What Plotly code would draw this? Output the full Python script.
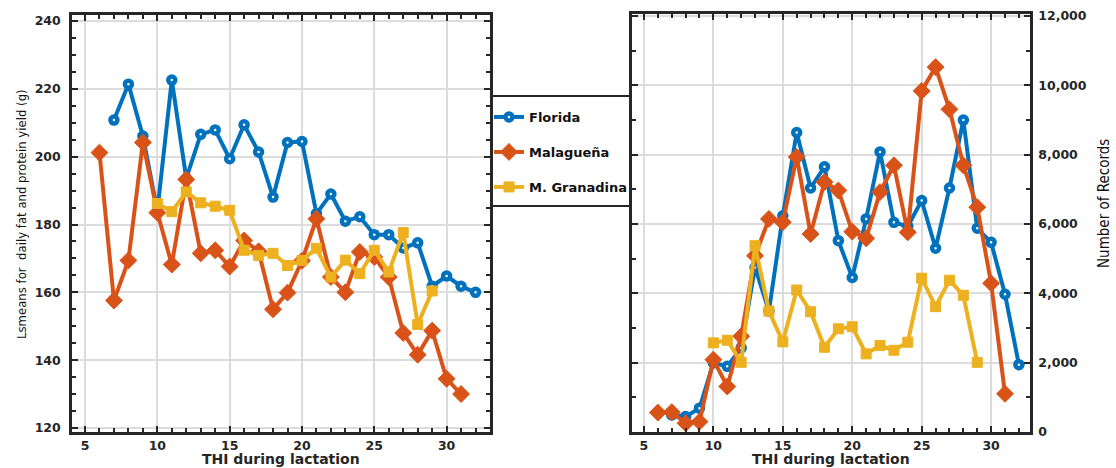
import plotly.graph_objects as go

# ---------------- data ----------------
thi_florida = list(range(7, 33))
thi_malaguena = list(range(6, 32))
thi_granadina = list(range(10, 30))

yield_florida = [210.8, 221.4, 206.1, 184.0, 222.6, 193.6, 206.6, 207.9, 199.4, 209.4,
                 201.4, 188.1, 204.2, 204.5, 183.2, 189.0, 181.0, 182.3, 177.0, 177.0,
                 173.1, 174.6, 161.8, 164.8, 161.8, 160.0]
yield_malaguena = [201.2, 157.6, 169.4, 204.2, 183.5, 168.2, 193.3, 171.5, 172.4, 167.6,
                   175.3, 172.1, 155.0, 159.9, 169.3, 181.7, 164.5, 160.0, 171.9, 170.4,
                   164.5, 148.0, 141.6, 148.7, 134.5, 130.0]
yield_granadina = [186.2, 183.8, 189.6, 186.4, 185.4, 184.2, 172.4, 170.9, 171.5, 167.9,
                   169.4, 173.0, 164.5, 169.5, 165.5, 172.4, 166.0, 177.6, 150.5, 160.4]

records_florida = [493, 444, 687, 1992, 1894, 2427, 4747, 3489, 6240, 8640,
                   7040, 7650, 5520, 4457, 6148, 8082, 6050, 5935, 6678, 5300,
                   7040, 9000, 5877, 5472, 3973, 1943]
records_malaguena = [560, 571, 252, 299, 2088, 1314, 2764, 5084, 6148, 6050,
                     7937, 5713, 7211, 6969, 5780, 5588, 6922, 7695, 5762, 9840,
                     10527, 9309, 7695, 6487, 4292, 1102]
records_granadina = [2572, 2648, 2010, 5374, 3489, 2601, 4097, 3470, 2445, 2978,
                     3036, 2253, 2494, 2358, 2590, 4437, 3616, 4379, 3944, 2010]

breed_names = ["Florida", "Malagueña", "M. Granadina"]
colors = ["#0072BD", "#D95319", "#EDB120"]

W, H = 1116, 468

def px_x(p):
    return p / W

def px_y(p):
    return 1 - p / H

def marker_for(i):
    if i == 0:
        return dict(symbol="circle", size=7, color="white", line=dict(color=colors[0], width=4.5))
    if i == 1:
        return dict(symbol="diamond", size=13, color=colors[1], line=dict(color=colors[1], width=1))
    return dict(symbol="square", size=10, color=colors[2], line=dict(color=colors[2], width=1))

fig = go.Figure()

left_sets = [(thi_florida, yield_florida), (thi_malaguena, yield_malaguena), (thi_granadina, yield_granadina)]
right_sets = [(thi_florida, records_florida), (thi_malaguena, records_malaguena), (thi_granadina, records_granadina)]
legend_ids = ["legend", "legend2", "legend3"]

for i, (xs, ys) in enumerate(left_sets):
    fig.add_trace(go.Scatter(x=xs, y=ys, mode="lines+markers", name=breed_names[i],
                             line=dict(color=colors[i], width=4), marker=marker_for(i),
                             xaxis="x", yaxis="y", legend=legend_ids[i], showlegend=True))
for i, (xs, ys) in enumerate(right_sets):
    fig.add_trace(go.Scatter(x=xs, y=ys, mode="lines+markers", name=breed_names[i],
                             line=dict(color=colors[i], width=4), marker=marker_for(i),
                             xaxis="x2", yaxis="y2", showlegend=False))

tick_font = dict(family="DejaVu Sans", size=12.5, color="#262626", weight="bold")
frame = dict(showline=True, linewidth=2.5, linecolor="#262626", mirror="allticks",
             ticks="inside", ticklen=6, tickwidth=2, tickcolor="#262626",
             showgrid=True, gridcolor="#dcdcdc", gridwidth=2, zeroline=False,
             tickfont=tick_font, automargin=False)
minor_common = dict(ticks="inside", ticklen=4, tickwidth=2, tickcolor="#262626", showgrid=False)

fig.update_layout(
    width=W, height=H, margin=dict(l=0, r=0, t=0, b=0),
    paper_bgcolor="white", plot_bgcolor="white",
    xaxis=dict(domain=[px_x(72), px_x(490)], range=[4.1, 33.0], tick0=5, dtick=5,
               anchor="y", ticklabelstandoff=0, minor=dict(dtick=1, **minor_common), **frame),
    yaxis=dict(domain=[px_y(432), px_y(15)], range=[118.8, 241.8], tick0=120, dtick=20,
               anchor="x", ticklabelstandoff=6, minor=dict(dtick=5, **minor_common), **frame),
    xaxis2=dict(domain=[px_x(632), px_x(1030)], range=[4.14, 32.8], tick0=5, dtick=5,
                anchor="y2", ticklabelstandoff=0, minor=dict(dtick=1, **minor_common), **frame),
    yaxis2=dict(domain=[px_y(432), px_y(14)], range=[0, 12060], tick0=0, dtick=2000,
                anchor="x2", side="right", tickformat=",d", ticklabelstandoff=3,
                minor=dict(dtick=1000, **minor_common), **frame),
    showlegend=True,
)

legend_y = [117, 152, 187]
for i, lid in enumerate(legend_ids):
    fig.update_layout({lid: dict(x=px_x(489), y=px_y(legend_y[i]), xanchor="left", yanchor="middle",
                                 bgcolor="rgba(0,0,0,0)", borderwidth=0, itemwidth=30,
                                 font=dict(family="DejaVu Sans", size=13, color="#111111", weight="bold"))})

# legend frame lines (decoration)
for yy in [96, 206]:
    fig.add_shape(type="line", xref="paper", yref="paper", x0=px_x(490), x1=px_x(632),
                  y0=px_y(yy), y1=px_y(yy), line=dict(color="#262626", width=2))

title_font = dict(family="DejaVu Sans", size=14, color="#262626", weight="bold")
narrow_family = "Liberation Sans Narrow, DejaVu Sans Condensed, Arial Narrow, sans-serif"

fig.add_annotation(text="THI during lactation", xref="paper", yref="paper",
                   x=px_x(281), y=px_y(458.5), xanchor="center", yanchor="middle",
                   showarrow=False, font=title_font)
fig.add_annotation(text="THI during lactation", xref="paper", yref="paper",
                   x=px_x(831), y=px_y(458.5), xanchor="center", yanchor="middle",
                   showarrow=False, font=title_font)
fig.add_annotation(text="Lsmeans for  daily fat and protein yield (g)", xref="paper", yref="paper",
                   x=px_x(22), y=px_y(214), xanchor="center", yanchor="middle", textangle=-90,
                   showarrow=False, font=dict(family=narrow_family, size=13, color="#111111"))
fig.add_annotation(text="Number of Records", xref="paper", yref="paper",
                   x=px_x(1104), y=px_y(204), xanchor="center", yanchor="middle", textangle=-90,
                   showarrow=False, font=dict(family=narrow_family, size=15, color="#111111"))

fig.write_html("out.html")
